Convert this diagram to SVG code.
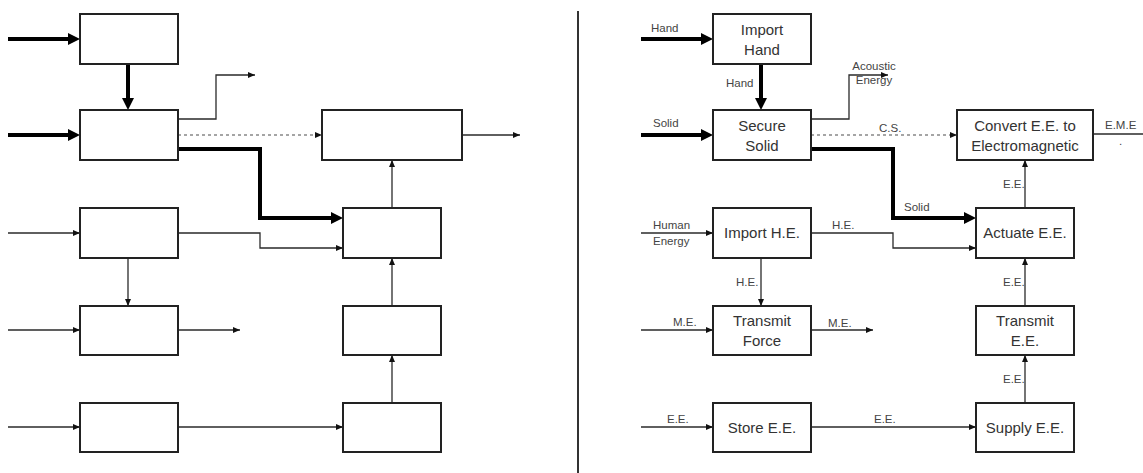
<svg xmlns="http://www.w3.org/2000/svg" width="1143" height="473" viewBox="0 0 1143 473">
<style>
.box{fill:#fff;stroke:#222;stroke-width:2}
.thin{fill:none;stroke:#2a2a2a;stroke-width:1.3}
.thick{fill:none;stroke:#000;stroke-width:4}
.dash{fill:none;stroke:#888;stroke-width:1.3;stroke-dasharray:3 3}
.bt{font-family:"Liberation Sans",Arial,sans-serif;font-size:15px;fill:#333;text-anchor:middle}
.lb{font-family:"Liberation Sans",Arial,sans-serif;font-size:11.5px;fill:#444}
.lbm{font-family:"Liberation Sans",Arial,sans-serif;font-size:11.5px;fill:#444;text-anchor:middle}
</style>
<defs>
<marker id="ah" markerUnits="userSpaceOnUse" markerWidth="8" markerHeight="6" refX="7" refY="3" orient="auto"><path d="M0,0 L7,3 L0,6 z" fill="#111"/></marker>
<marker id="ahT" markerUnits="userSpaceOnUse" markerWidth="13" markerHeight="12" refX="0" refY="6" orient="auto"><path d="M0,0 L12,6 L0,12 z" fill="#000"/></marker>
</defs>
<rect width="1143" height="473" fill="#fff"/>
<line x1="578" y1="11" x2="578" y2="473" stroke="#333" stroke-width="2"/>
<g id="connectors">
<path class="thick" d="M8,39 H68" marker-end="url(#ahT)"/>
<path class="thick" d="M128,64 V98" marker-end="url(#ahT)"/>
<path class="thick" d="M8,135 H68" marker-end="url(#ahT)"/>
<path class="thin" d="M178,119 H216 V75 H255" marker-end="url(#ah)"/>
<path class="dash" d="M178,135 H322" marker-end="url(#ah)"/>
<path class="thick" d="M178,149 H260 V218 H331" marker-end="url(#ahT)"/>
<path class="thin" d="M8,233 H80" marker-end="url(#ah)"/>
<path class="thin" d="M178,233 H260 V248 H343" marker-end="url(#ah)"/>
<path class="thin" d="M128,258 V306" marker-end="url(#ah)"/>
<path class="thin" d="M8,330 H80" marker-end="url(#ah)"/>
<path class="thin" d="M178,330 H240" marker-end="url(#ah)"/>
<path class="thin" d="M8,427 H80" marker-end="url(#ah)"/>
<path class="thin" d="M178,427 H343" marker-end="url(#ah)"/>
<path class="thin" d="M392,208 V160" marker-end="url(#ah)"/>
<path class="thin" d="M392,306 V258" marker-end="url(#ah)"/>
<path class="thin" d="M392,403 V355" marker-end="url(#ah)"/>
<path class="thin" d="M462,135 H520" marker-end="url(#ah)"/>

<path class="thick" d="M641,39 H701" marker-end="url(#ahT)"/>
<path class="thick" d="M761,64 V98" marker-end="url(#ahT)"/>
<path class="thick" d="M641,135 H701" marker-end="url(#ahT)"/>
<path class="thin" d="M811,119 H849 V75 H888" marker-end="url(#ah)"/>
<path class="dash" d="M811,135 H957" marker-end="url(#ah)"/>
<path class="thick" d="M811,149 H893 V218 H964" marker-end="url(#ahT)"/>
<path class="thin" d="M641,233 H713" marker-end="url(#ah)"/>
<path class="thin" d="M811,233 H893 V248 H976" marker-end="url(#ah)"/>
<path class="thin" d="M761,258 V306" marker-end="url(#ah)"/>
<path class="thin" d="M641,330 H713" marker-end="url(#ah)"/>
<path class="thin" d="M811,330 H873" marker-end="url(#ah)"/>
<path class="thin" d="M641,427 H713" marker-end="url(#ah)"/>
<path class="thin" d="M811,427 H976" marker-end="url(#ah)"/>
<path class="thin" d="M1025,208 V160" marker-end="url(#ah)"/>
<path class="thin" d="M1025,306 V258" marker-end="url(#ah)"/>
<path class="thin" d="M1025,403 V355" marker-end="url(#ah)"/>
<path class="thin" d="M1093,134 H1145"/>
</g>
<g id="labels">
<text class="lb" x="651" y="32">Hand</text>
<text class="lb" x="726" y="87">Hand</text>
<text class="lb" x="653" y="127">Solid</text>
<text class="lbm" x="874" y="70">Acoustic</text>
<text class="lbm" x="874" y="84">Energy</text>
<text class="lb" x="879" y="132">C.S.</text>
<text class="lb" x="1105" y="129">E.M.E</text>
<text class="lb" x="1119" y="145">.</text>
<text class="lb" x="904" y="211">Solid</text>
<text class="lb" x="1003" y="188">E.E.</text>
<text class="lb" x="653" y="229">Human</text>
<text class="lb" x="653" y="245">Energy</text>
<text class="lb" x="832" y="229">H.E.</text>
<text class="lb" x="736" y="286">H.E.</text>
<text class="lb" x="673" y="326">M.E.</text>
<text class="lb" x="828" y="327">M.E.</text>
<text class="lb" x="1003" y="286">E.E.</text>
<text class="lb" x="1003" y="383">E.E.</text>
<text class="lb" x="667" y="423">E.E.</text>
<text class="lb" x="874" y="423">E.E.</text>
</g>
<g id="L-A"><rect class="box" x="80" y="14" width="98" height="50"/></g>
<g id="L-B"><rect class="box" x="80" y="110" width="98" height="50"/></g>
<g id="L-C"><rect class="box" x="80" y="208" width="98" height="50"/></g>
<g id="L-D"><rect class="box" x="80" y="306" width="98" height="49"/></g>
<g id="L-E"><rect class="box" x="80" y="403" width="98" height="49"/></g>
<g id="L-F"><rect class="box" x="322" y="110" width="140" height="50"/></g>
<g id="L-G"><rect class="box" x="343" y="208" width="98" height="50"/></g>
<g id="L-H"><rect class="box" x="343" y="306" width="98" height="49"/></g>
<g id="L-I"><rect class="box" x="343" y="403" width="98" height="49"/></g>

<g id="import-hand"><rect class="box" x="713" y="14" width="98" height="50"/><text class="bt" x="762" y="35">Import</text><text class="bt" x="762" y="55">Hand</text></g>
<g id="secure-solid"><rect class="box" x="713" y="110" width="98" height="50"/><text class="bt" x="762" y="131">Secure</text><text class="bt" x="762" y="151">Solid</text></g>
<g id="import-he"><rect class="box" x="713" y="208" width="98" height="50"/><text class="bt" x="762" y="238">Import H.E.</text></g>
<g id="transmit-force"><rect class="box" x="713" y="306" width="98" height="49"/><text class="bt" x="762" y="326">Transmit</text><text class="bt" x="762" y="346">Force</text></g>
<g id="store-ee"><rect class="box" x="713" y="403" width="98" height="49"/><text class="bt" x="762" y="433">Store E.E.</text></g>
<g id="convert-ee"><rect class="box" x="957" y="110" width="136" height="50"/><text class="bt" x="1025" y="131">Convert E.E. to</text><text class="bt" x="1025" y="151">Electromagnetic</text></g>
<g id="actuate-ee"><rect class="box" x="976" y="208" width="98" height="50"/><text class="bt" x="1025" y="238">Actuate E.E.</text></g>
<g id="transmit-ee"><rect class="box" x="976" y="306" width="98" height="49"/><text class="bt" x="1025" y="326">Transmit</text><text class="bt" x="1025" y="346">E.E.</text></g>
<g id="supply-ee"><rect class="box" x="976" y="403" width="98" height="49"/><text class="bt" x="1025" y="433">Supply E.E.</text></g>
</svg>
